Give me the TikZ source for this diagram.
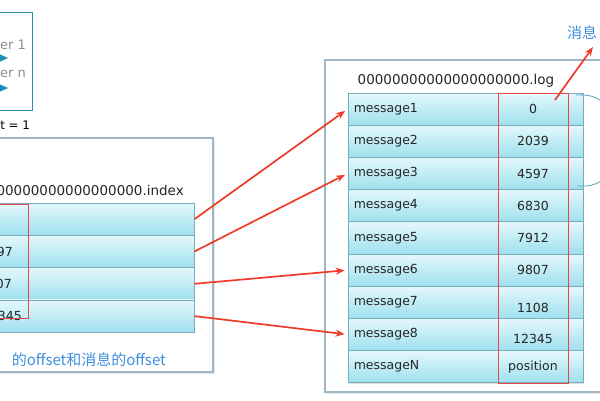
\documentclass[tikz,border=0pt]{standalone}
\usepackage{fontspec}
\setmainfont{DejaVu Sans}
\newfontfamily\cjkfont{Noto Sans CJK SC}
\usetikzlibrary{arrows.meta,shadows}

\definecolor{rowtop}{HTML}{E4F8FC}
\definecolor{rowbot}{HTML}{9EE0EE}
\definecolor{rowline}{HTML}{78AEBB}
\definecolor{frameline}{HTML}{9DB8C4}
\definecolor{tealline}{HTML}{2A8BAA}
\definecolor{tealfill}{HTML}{1F8EBF}
\definecolor{redline}{HTML}{EE3B2A}
\definecolor{boxred}{HTML}{E8474B}
\definecolor{cjkblue}{HTML}{3F8FE0}

\tikzset{
  idxrow/.style={draw=rowline, line width=0.8pt, top color=rowtop, bottom color=rowbot,
    minimum width=199pt, minimum height=32.3pt, inner sep=0pt,
    drop shadow={shadow xshift=1pt, shadow yshift=-1pt, opacity=0.25}},
  logrow/.style={idxrow, minimum width=235pt, minimum height=32.2pt},
  frame/.style={draw=frameline, line width=1.3pt, fill=white,
    drop shadow={shadow xshift=1.5pt, shadow yshift=-1.5pt, opacity=0.2}},
  title/.style={inner sep=0pt, text=black!85, font=\fontsize{13.5}{16}\selectfont},
  cell/.style={inner sep=0pt, text=black!85, font=\fontsize{12.5}{15}\selectfont},
  greytext/.style={inner sep=0pt, text=black!45, font=\fontsize{13}{15}\selectfont},
  note/.style={inner sep=0pt, text=cjkblue, font=\cjkfont\fontsize{15}{18}\selectfont},
  redbox/.style={draw=boxred, line width=0.9pt},
  redarrow/.style={draw=redline, line width=1.7pt, shorten >=3pt,
    -{Stealth[length=9pt,width=7pt]}},
  braceline/.style={draw=tealline!80, line width=0.8pt}
}

\begin{document}
\begin{tikzpicture}[x=1pt,y=-1pt]
\useasboundingbox (0,0) rectangle (600,400);
\clip (0,0) rectangle (600,400);

% consumers, top left
\draw[tealline, line width=1pt] (-5,12) rectangle (32,110);
\node[greytext, anchor=east] (cons1) at (26,45) {er 1};
\node[greytext, anchor=east] (consn) at (26,74) {er n};
\fill[tealfill] (-3,53) -- (8,58) -- (-3,63) -- cycle;
\fill[tealfill] (-3,83) -- (8,88) -- (-3,93) -- cycle;
\node[cell, text=black, font=\fontsize{11.8}{14}\selectfont, anchor=east] (offs) at (30,125) {t = 1};

% index file
\draw[frame] (-5,138) rectangle (213,372);
\node[title, anchor=east] (idxname) at (184,190) {00000000000000000000.index};
\foreach \k in {1,...,4}
  \node[idxrow] (idx\k) at (94.5,{219.2+(\k-1)*32.3}) {};
\node[cell, anchor=east] (idxv2) at (13,252) {97};
\node[cell, anchor=east] (idxv3) at (12,284) {07};
\node[cell, anchor=east] (idxv4) at (22,316) {345};
\draw[redbox] (-5,204) rectangle (28,318);
\node[note, anchor=east] (idxnote) at (166,360) {的offset和消息的offset};

% log file
\draw[frame] (325,60) rectangle (615,392);
\node[title] (logname) at (456,81) {00000000000000000000.log};
\foreach \lab/\num/\dy [count=\k] in {message1/0/0, message2/2039/0, message3/4597/0,
    message4/6830/0, message5/7912/0, message6/9807/0, message7/1108/6,
    message8/12345/4, messageN/position/0}{
  \node[logrow] (msg\k) at (465.5,{109.1+(\k-1)*32.2}) {};
  \node[cell, anchor=west] (lab\k) at ([xshift=6pt]msg\k.west) {\lab};
  \node[cell] (num\k) at (533,{109.1+(\k-1)*32.2+\dy}) {\num};
}
\draw[redbox] (498,93) rectangle (568,383);
\draw[braceline] (576,95) .. controls (606,93) and (614,112) .. (614,140)
  .. controls (614,170) and (606,188) .. (578,186);

% index -> log
\draw[redarrow] (idx1.east) -- (msg1.west);
\draw[redarrow] (idx2.east) -- (msg3.west);
\draw[redarrow] (idx3.east) -- (msg6.west);
\draw[redarrow] (idx4.east) -- (msg8.west);

\coordinate (logtop) at (555,100);
\coordinate (notetip) at (593,47);
\node[note, anchor=west] (lognote) at (567,33) {消息};
\draw[redarrow, shorten >=0pt] (logtop) -- (notetip);

\end{tikzpicture}
\end{document}
